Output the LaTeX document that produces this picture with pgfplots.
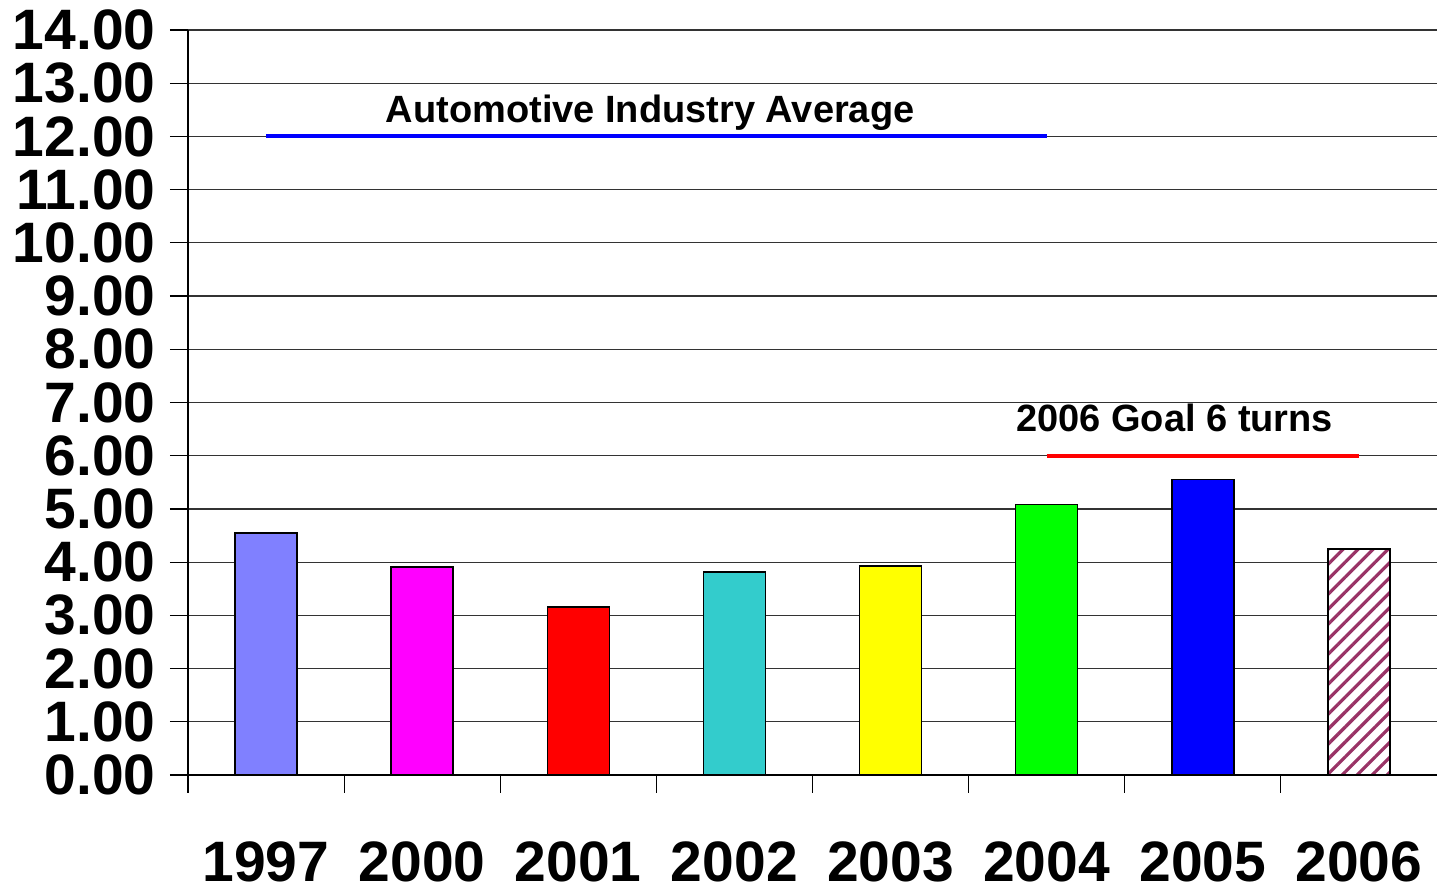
\documentclass[border=0pt]{standalone}
\usepackage{pgfplots}
\pgfplotsset{compat=1.18}
\usepackage{fontspec}
\setmainfont{Liberation Sans}
\usetikzlibrary{patterns.meta}
\definecolor{c1997}{RGB}{128,128,255}
\definecolor{c2000}{RGB}{255,0,255}
\definecolor{c2001}{RGB}{255,0,0}
\definecolor{c2002}{RGB}{51,204,204}
\definecolor{c2003}{RGB}{255,255,0}
\definecolor{c2004}{RGB}{0,255,0}
\definecolor{c2005}{RGB}{0,0,255}
\definecolor{hatch}{RGB}{153,51,102}
\begin{document}
\begin{tikzpicture}
\begin{axis}[
  name=ax,
  scale only axis,
  width=624.5pt, height=372.5pt,
  xmin=-0.5, xmax=7.5, ymin=0, ymax=14,
  axis lines=left,
  axis line style={-, black, line width=0.6pt},
  xtick={-0.5,0.5,...,6.5},
  xticklabels={1997,2000,2001,2002,2003,2004,2005,2006},
  ytick={0,1,...,14},
  tick align=outside,
  major tick length=9pt,
  tick style={black, line width=0.6pt},
  ymajorgrids,
  grid style={black!80, line width=0.6pt},
  /pgf/number format/.cd, fixed, fixed zerofill, precision=2, assume math mode=true,
  /pgfplots/.cd,
  tick label style={font=\bfseries\fontsize{28.5}{30}\selectfont},
  yticklabel style={anchor=east, inner sep=0pt, xshift=-7pt},
  xticklabel style={anchor=north, inner sep=0pt, xshift=39pt, yshift=-24pt},
  clip=false,
]
\addplot[ybar, bar width=31pt, draw=black, line width=0.8pt, fill=c1997] coordinates {(0,4.55)};
\addplot[ybar, bar width=31pt, draw=black, line width=0.8pt, fill=c2000] coordinates {(1,3.91)};
\addplot[ybar, bar width=31pt, draw=black, line width=0.8pt, fill=c2001] coordinates {(2,3.16)};
\addplot[ybar, bar width=31pt, draw=black, line width=0.8pt, fill=c2002] coordinates {(3,3.82)};
\addplot[ybar, bar width=31pt, draw=black, line width=0.8pt, fill=c2003] coordinates {(4,3.93)};
\addplot[ybar, bar width=31pt, draw=black, line width=0.8pt, fill=c2004] coordinates {(5,5.08)};
\addplot[ybar, bar width=31pt, draw=black, line width=0.8pt, fill=c2005] coordinates {(6,5.55)};
\addplot[ybar, bar width=31pt, draw=black, line width=0.8pt, fill=white,
  postaction={pattern={Lines[angle=45,distance=5.3pt,line width=1.6pt]}, pattern color=hatch}] coordinates {(7,4.25)};
\addplot[blue, line width=2pt, mark=none] coordinates {(0,12) (5,12)};
\addplot[red, line width=2pt, mark=none] coordinates {(5,6) (7,6)};
\node[anchor=base, font=\bfseries\fontsize{19}{21}\selectfont, inner sep=0pt] at (axis cs:2.46,12.26) {Automotive Industry Average};
\node[anchor=base, font=\bfseries\fontsize{19}{21}\selectfont, inner sep=0pt] at (axis cs:5.82,6.45) {2006 Goal 6 turns};
\end{axis}
\pgfresetboundingbox
\path ([xshift=-94pt,yshift=-56.5pt]ax.south west) rectangle ([yshift=15pt]ax.north east);
\end{tikzpicture}
\end{document}
